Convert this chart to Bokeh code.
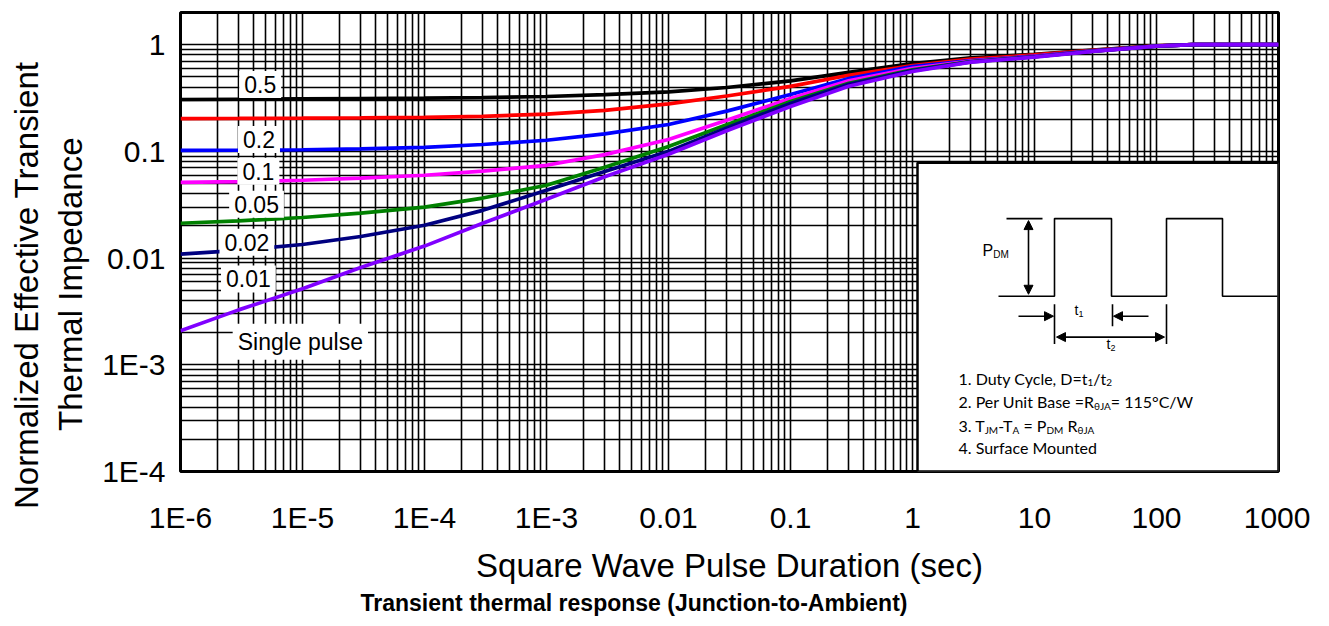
import glob
from bokeh.plotting import figure
from bokeh.models import (ColumnDataSource, FixedTicker, Range1d, LinearScale,
                          Label, Arrow, NormalHead, Title)
from bokeh.core.properties import value
from bokeh.embed import file_html
from bokeh.resources import INLINE

# ---------------- data ----------------
pulse_duration = [1e-6, 3e-6, 1e-5, 3e-5, 1e-4, 3e-4, 1e-3, 3e-3, 1e-2, 3e-2,
                  0.1, 0.3, 1, 3, 10, 30, 100, 200, 1000]

zth_d050 = [0.306, 0.3076, 0.3097, 0.3119, 0.3148, 0.3192, 0.3266, 0.3396, 0.3614, 0.3963,
            0.457, 0.550, 0.664, 0.75, 0.81, 0.89, 0.975, 1.0, 1.0]
zth_d020 = [0.2030, 0.2035, 0.2044, 0.2058, 0.2082, 0.2131, 0.2231, 0.2417, 0.278, 0.330,
            0.4059, 0.5169, 0.637, 0.73, 0.80, 0.885, 0.975, 1.0, 1.0]
zth_d010 = [0.1021, 0.1026, 0.1035, 0.1054, 0.1091, 0.1159, 0.1271, 0.1459, 0.1786, 0.2382,
            0.3412, 0.4819, 0.6223, 0.71, 0.78, 0.875, 0.97, 1.0, 1.0]
zth_d005 = [0.0513, 0.0520, 0.0536, 0.0560, 0.0597, 0.0652, 0.0740, 0.0931, 0.1291, 0.1954,
            0.3133, 0.4581, 0.600, 0.70, 0.775, 0.87, 0.97, 1.0, 1.0]
zth_d002 = [0.0212, 0.0223, 0.0240, 0.0264, 0.0300, 0.0365, 0.0481, 0.0711, 0.1109, 0.1778,
            0.2931, 0.4335, 0.5794, 0.695, 0.77, 0.87, 0.97, 1.0, 1.0]
zth_d001 = [0.01089, 0.0118, 0.0134, 0.01592, 0.0203, 0.0280, 0.0432, 0.0646, 0.100, 0.166,
            0.281, 0.4256, 0.570, 0.69, 0.77, 0.87, 0.97, 1.0, 1.0]
zth_single = [0.00208, 0.00327, 0.00515, 0.00817, 0.01294, 0.02123, 0.03556, 0.05768, 0.0940, 0.1560,
              0.2630, 0.4074, 0.5598, 0.685, 0.765, 0.865, 0.97, 1.0, 1.0]

series_values = [zth_d050, zth_d020, zth_d010, zth_d005, zth_d002, zth_d001, zth_single]
series_colors = ["#000000", "#ff0000", "#0000ff", "#ff00ff", "#008000", "#000080", "#8000ff"]

curve_labels = ["0.5", "0.2", "0.1", "0.05", "0.02", "0.01", "Single pulse"]
curve_label_x = [4.5e-6, 4.4e-6, 4.35e-6, 4.2e-6, 3.5e-6, 3.6e-6, 9.6e-6]
curve_label_y = [0.423, 0.129, 0.065, 0.032, 0.0141, 0.00637, 0.00164]

x_ticks = [1e-6, 1e-5, 1e-4, 1e-3, 1e-2, 0.1, 1, 10, 100, 1000]
x_tick_labels = ["1E-6", "1E-5", "1E-4", "1E-3", "0.01", "0.1", "1", "10", "100", "1000"]
y_ticks = [1e-4, 1e-3, 1e-2, 0.1, 1]
y_tick_labels = ["1E-4", "1E-3", "0.01", "0.1", "1"]

x_label = "Square Wave Pulse Duration (sec)"
y_label_lines = ["Normalized Effective Transient", "Thermal Impedance"]
caption = "Transient thermal response (Junction-to-Ambient)"

notes = [
    [("1. Duty Cycle, D=t", 0), ("1", 1), ("/t", 0), ("2", 1)],
    [("2. Per Unit Base =R", 0), ("\u03b8JA", 1), ("= 115\u00b0C/W", 0)],
    [("3. T", 0), ("JM", 1), ("-T", 0), ("A", 1), (" = P", 0), ("DM", 1), (" R", 0), ("\u03b8JA", 1)],
    [("4. Surface Mounted", 0)],
]

FONT = "Liberation Sans"
NOTE_FONT = "Lato"

# ---------------- text measuring (layout only) ----------------
try:
    from PIL import ImageFont
except Exception:
    ImageFont = None


def _find(pats):
    for pat in pats:
        for root in ("/usr/share/fonts", "/usr/local/share/fonts"):
            hits = glob.glob(root + "/**/" + pat, recursive=True)
            if hits:
                return hits[0]
    return None


_paths = {
    "sans": _find(["LiberationSans-Regular.ttf"]),
    "sansb": _find(["LiberationSans-Bold.ttf"]),
    "lato": _find(["Lato-Regular.ttf", "Lato-Reg*.ttf"]),
}


def measure(s, size, kind="sans"):
    path = _paths.get(kind)
    if ImageFont is not None and path:
        try:
            return ImageFont.truetype(path, int(round(size))).getlength(s)
        except Exception:
            pass
    return len(s) * size * 0.52


def minor_of(decades):
    out = []
    for d in decades[:-1]:
        for m in range(2, 10):
            out.append(d * m)
    return out


FRAME_L, FRAME_R, FRAME_T, FRAME_B = 180, 1278, 12, 473
W, H = 1310, 618

p = figure(width=W, height=H, x_axis_type="log", y_axis_type="log",
           x_range=(1e-6, 1000), y_range=(1e-4, 2.0),
           output_backend="svg", toolbar_location=None,
           min_border_left=FRAME_L, min_border_right=W - FRAME_R,
           min_border_top=FRAME_T, min_border_bottom=H - FRAME_B)
p.background_fill_color = "white"
p.border_fill_color = "white"
p.outline_line_color = "black"
p.outline_line_width = 3

# pixel helper ranges for the schematic inset
p.extra_x_ranges = {"px": Range1d(FRAME_L, FRAME_R)}
p.extra_x_scales = {"px": LinearScale()}
p.extra_y_ranges = {"py": Range1d(FRAME_B, FRAME_T)}
p.extra_y_scales = {"py": LinearScale()}

xt = FixedTicker(ticks=x_ticks, minor_ticks=minor_of(x_ticks))
yt = FixedTicker(ticks=y_ticks, minor_ticks=minor_of(y_ticks))
p.xaxis.ticker = xt
p.yaxis.ticker = yt
p.xgrid.ticker = xt
p.ygrid.ticker = yt
p.xaxis.major_label_overrides = {t: s for t, s in zip(x_ticks, x_tick_labels)}
p.yaxis.major_label_overrides = {t: s for t, s in zip(y_ticks, y_tick_labels)}
for ax in (p.xaxis[0], p.yaxis[0]):
    ax.major_label_text_font = FONT
    ax.major_label_text_font_size = "30px"
    ax.major_label_text_color = "black"
    ax.major_tick_out = 0
    ax.major_tick_in = 0
    ax.minor_tick_out = 0
    ax.minor_tick_in = 0
    ax.axis_line_color = None
p.xaxis.major_label_standoff = 29
p.yaxis.major_label_standoff = 15
p.xaxis.axis_label = x_label
p.xaxis.axis_label_text_font = FONT
p.xaxis.axis_label_text_font_size = "33px"
p.xaxis.axis_label_text_font_style = "normal"
p.xaxis.axis_label_text_color = "black"
p.xaxis.axis_label_standoff = 10

for g in (p.xgrid[0], p.ygrid[0]):
    g.grid_line_color = "black"
    g.grid_line_width = 1.6
    g.minor_grid_line_color = "black"
    g.minor_grid_line_width = 1.6

# y title: two stacked left titles, centred at y ~ 284 like the reference
Y_TITLE_CENTER = 284
for line, stand in ((y_label_lines[1], 19), (y_label_lines[0], -8)):
    wl = measure(line, 33)
    p.add_layout(Title(text=line, align="right", vertical_align="middle",
                       offset=int(round(Y_TITLE_CENTER - wl / 2 - FRAME_T)),
                       standoff=stand, text_font=FONT, text_font_size="33px",
                       text_font_style="normal", text_color="black"), "left")

# caption below, centred at x ~ 633
cw = measure(caption, 23, "sansb")
p.add_layout(Title(text=caption, align="left", vertical_align="middle",
                   offset=int(round(633 - cw / 2 - FRAME_L)), standoff=4,
                   text_font=FONT, text_font_size="23px", text_font_style="bold",
                   text_color="black"), "below")

# inset box (white, covers the grid)
p.quad(left=[917], right=[FRAME_R], top=[163], bottom=[FRAME_B],
       x_range_name="px", y_range_name="py",
       fill_color="white", line_color="black", line_width=2.5)

# curves
for vals, col in zip(series_values, series_colors):
    p.line(pulse_duration, vals, line_color=col, line_width=3.7)

# curve labels with white boxes
lab_src = ColumnDataSource(dict(x=curve_label_x, y=curve_label_y, text=curve_labels))
p.text(x="x", y="y", text="text", source=lab_src,
       text_font=value(FONT), text_font_size="23px", text_color="black",
       text_align="center", text_baseline="middle",
       background_fill_color="white", padding=5)

# ---------------- inset schematic ----------------
wave_x = [998, 1054, 1054, 1111, 1111, 1166, 1166, 1222, 1222, 1277]
wave_y = [297, 297, 219, 219, 297, 297, 219, 219, 297, 297]
p.line(wave_x, wave_y, x_range_name="px", y_range_name="py", line_color="black", line_width=1.6)
seg_x0 = [1006, 1054, 1112, 1166]
seg_y0 = [219, 305, 305, 305]
seg_x1 = [1042, 1054, 1112, 1166]
seg_y1 = [219, 345, 327, 345]
p.segment(seg_x0, seg_y0, seg_x1, seg_y1, x_range_name="px", y_range_name="py",
          line_color="black", line_width=1.6)


def head():
    return NormalHead(size=9, fill_color="black", line_color="black", line_width=1)


arrows = [
    (1028, 221, 1028, 295, True),
    (1018, 317, 1053, 317, False),
    (1148, 317, 1113, 317, False),
    (1056, 338, 1164, 338, True),
]
for xs, ys, xe, ye, both in arrows:
    p.add_layout(Arrow(x_start=xs, y_start=ys, x_end=xe, y_end=ye,
                       start=head() if both else None, end=head(),
                       line_color="black", line_width=1.6,
                       x_range_name="px", y_range_name="py"))


def txt(x, y, s, size, font=FONT):
    p.add_layout(Label(x=x, y=y, text=s, x_range_name="px", y_range_name="py",
                       text_font=font, text_font_size="%gpx" % size, text_color="black",
                       text_align="left", text_baseline="middle"))


def pieces(x, y, parts, size, sub_size, font, kind, drop=4):
    for s, is_sub in parts:
        sz = sub_size if is_sub else size
        lead = len(s) - len(s.lstrip(" "))
        if lead:
            x += measure(" " * lead, sz, kind)
            s = s.lstrip(" ")
        txt(x, y + (drop if is_sub else 0), s, sz, font)
        x += measure(s, sz, kind)


pieces(982, 251, [("P", 0), ("DM", 1)], 16, 10, FONT, "sans")
pieces(1074, 311, [("t", 0), ("1", 1)], 14, 9, FONT, "sans")
pieces(1106, 345, [("t", 0), ("2", 1)], 14, 9, FONT, "sans")

# note size chosen so "4. Surface Mounted" spans ~139 px as in the reference
note_size = max(12, min(17, round(16 * 139 / max(1.0, measure("4. Surface Mounted", 16, "lato")))))
note_sub = round(note_size * 0.62)
for parts, yy in zip(notes, [380, 403, 427, 449]):
    pieces(958, yy, parts, note_size, note_sub, NOTE_FONT, "lato")

open("out.html", "w").write(file_html(p, INLINE))
